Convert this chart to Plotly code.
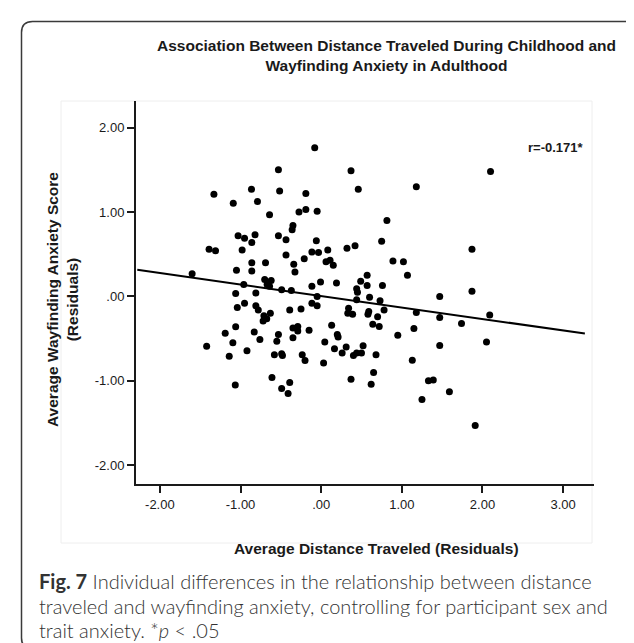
import plotly.graph_objects as go

# ---- data ----
dist_x = [
    -1.33, -0.864, -0.515, -0.19, 0.46, -1.09, -0.79, -0.64, -0.275, -0.19, -0.05,
    -0.35, -0.36, -1.03, -0.95, -0.82, -0.86, -0.53, -0.436, -0.06, -1.39, -1.31,
    -0.98, -0.436, -0.21, -0.115, -0.033, 0.082, 0.32, 0.42, -0.86, -0.69, -1.05,
    -0.86, -0.34, -0.325, 0.06, 0.11, 0.15, -1.60, -0.70, -0.62, -0.67, -0.96,
    -0.64, -0.49, -0.37, -0.115, -0.008, 0.19, 0.49, 0.57, 0.57, 0.44, 0.45, 0.44,
    -1.06, -0.81, -0.05, -0.95, -1.04, -0.81, -0.78, -0.115, -0.05, -0.39, -0.25,
    0.34, 0.33, 0.39, 0.60, 0.59, 0.58, 0.70, -0.71, -0.675, -0.63, -0.72, 0.13,
    0.64, -1.06, -1.19, -0.83, -0.76, -0.53, -0.55, -0.35, -0.29, -0.29, -0.15,
    -0.35, 0.20, 0.21, 0.045, -1.095, -1.42,
    -1.14, -0.92, -0.58, -0.49, -0.48, -0.235, -0.20, 0.03, 0.165, 0.26, 0.31,
    0.40, 0.44, 0.50, 0.52, 0.68, 0.65, 0.62, 0.37, -0.61, -0.49, -0.39, -0.41,
    -1.065,
    1.18, 0.815, 0.75, 0.89, 1.02, 1.07, 1.87, 1.87, 1.47, 0.76, 0.73, 0.78, 0.72,
    1.18, 1.47, 1.74, 2.09, 1.15, 0.95, 1.47, 2.05,
    1.13, 1.33, 1.39, 1.59, 1.25, 1.91,
    -0.08, -0.53, 0.37, 2.10,
]
anxiety_y = [
    1.21, 1.27, 1.25, 1.22, 1.27, 1.105, 1.125, 0.967, 1.0, 1.03, 1.01,
    0.84, 0.79, 0.72, 0.69, 0.73, 0.64, 0.72, 0.67, 0.66, 0.56, 0.54,
    0.55, 0.49, 0.445, 0.525, 0.52, 0.55, 0.57, 0.60, 0.40, 0.40, 0.31,
    0.30, 0.38, 0.29, 0.41, 0.43, 0.37, 0.27, 0.20, 0.19, 0.14, 0.14,
    0.12, 0.08, 0.07, 0.12, 0.17, 0.16, 0.18, 0.25, 0.13, 0.09, 0.05, -0.04,
    0.035, 0.04, 0.0, -0.08, -0.13, -0.11, -0.16, -0.08, -0.11, -0.16, -0.15,
    -0.14, -0.20, -0.21, -0.01, -0.18, -0.21, -0.24, -0.23, -0.265, -0.20, -0.29, -0.34,
    -0.33, -0.36, -0.435, -0.42, -0.51, -0.45, -0.53, -0.375, -0.355, -0.41, -0.40,
    -0.49, -0.45, -0.48, -0.54, -0.55, -0.59,
    -0.71, -0.645, -0.69, -0.68, -0.70, -0.69, -0.76, -0.79, -0.62, -0.67, -0.60,
    -0.70, -0.67, -0.67, -0.585, -0.69, -0.90, -1.04, -0.98, -0.96, -1.09, -1.02, -1.15,
    -1.05,
    1.30, 0.90, 0.655, 0.42, 0.41, 0.25, 0.56, 0.06, 0.0, 0.13, -0.05, -0.16, -0.355,
    -0.19, -0.25, -0.32, -0.22, -0.38, -0.46, -0.58, -0.54,
    -0.755, -1.00, -0.99, -1.13, -1.22, -1.53,
    1.76, 1.50, 1.49, 1.48,
]
fit_x = [-2.28, 3.27]
fit_y = [0.315, -0.44]

x_ticks = [-2, -1, 0, 1, 2, 3]
x_ticktext = ["-2.00", "-1.00", ".00", "1.00", "2.00", "3.00"]
y_ticks = [-2, -1, 0, 1, 2]
y_ticktext = ["-2.00", "-1.00", ".00", "1.00", "2.00"]

title_lines = ["Association Between Distance Traveled During Childhood and",
               "Wayfinding Anxiety in Adulthood"]
x_title = "Average Distance Traveled (Residuals)"
y_title_lines = ["Average Wayfinding Anxiety Score", "(Residuals)"]
r_label = "r=-0.171*"
caption_lines = ["<b>Fig. 7</b> Individual differences in the relationship between distance",
                 "traveled and wayfinding anxiety, controlling for participant sex and",
                 "trait anxiety. *<i>p</i> &lt; .05"]

# ---- layout geometry (pixels) ----
W, H = 634, 643
L, R, T, B = 128, 586, 93, 476


def px(xp):
    return (xp - L) / (R - L)


def py(yp):
    return (B - yp) / (B - T)


FONT = "Liberation Sans, Arial, sans-serif"
INK = "#1a1a1a"

fig = go.Figure()
fig.add_trace(go.Scatter(x=fit_x, y=fit_y, mode="lines",
                         line=dict(color="black", width=2), hoverinfo="skip"))
fig.add_trace(go.Scatter(x=dist_x, y=anxiety_y, mode="markers",
                         marker=dict(color="black", size=7, line=dict(width=0))))

# card border (rounded rectangle)
x0, x1, y0, y1, rr = 13.5, 629, 13.5, 641, 11


def P(a, b):
    return f"{px(a):.5f},{py(b):.5f}"


card = (f"M {P(x0+rr, y0)} L {P(x1-rr, y0)} Q {P(x1, y0)} {P(x1, y0+rr)} "
        f"L {P(x1, y1-rr)} Q {P(x1, y1)} {P(x1-rr, y1)} L {P(x0+rr, y1)} "
        f"Q {P(x0, y1)} {P(x0, y1-rr)} L {P(x0, y0+rr)} Q {P(x0, y0)} {P(x0+rr, y0)} Z")

shapes = [
    dict(type="path", xref="paper", yref="paper", path=card,
         line=dict(color="#3a3a3a", width=1.5), layer="below"),
    dict(type="rect", xref="paper", yref="paper", x0=px(53), x1=px(584),
         y0=py(535), y1=py(93), line=dict(color="#eeeeee", width=1), layer="below"),
]

annotations = [
    dict(text="<br>".join(title_lines), xref="paper", yref="paper",
         x=px(378), y=py(47), xanchor="center", yanchor="middle", showarrow=False,
         font=dict(family=FONT, size=15.5, color=INK, weight="bold")),
    dict(text=x_title, xref="paper", yref="paper", x=px(368), y=py(540),
         xanchor="center", yanchor="middle", showarrow=False,
         font=dict(family=FONT, size=15.5, color=INK, weight="bold")),
    dict(text="<br>".join(y_title_lines), xref="paper", yref="paper", x=px(54), y=py(292),
         xanchor="center", yanchor="middle", showarrow=False, textangle=-90,
         font=dict(family=FONT, size=15.5, color=INK, weight="bold")),
    dict(text=r_label, xref="paper", yref="paper", x=px(548), y=py(140),
         xanchor="center", yanchor="middle", showarrow=False,
         font=dict(family=FONT, size=13, color=INK, weight="bold")),
]
for line_text, line_y in zip(caption_lines, [573, 598, 622]):
    annotations.append(dict(text=line_text, xref="paper", yref="paper", x=px(29), y=py(line_y),
                            xanchor="left", yanchor="middle", showarrow=False, align="left",
                            font=dict(family="Lato, Open Sans, sans-serif", size=20,
                                      color="#333333", weight=300)))

axis_common = dict(showgrid=False, zeroline=False, showline=True, linecolor=INK,
                   linewidth=2, ticks="outside", ticklen=7, tickwidth=1.5, tickcolor=INK,
                   tickfont=dict(family=FONT, size=13, color=INK), fixedrange=True)

fig.update_layout(
    width=W, height=H, autosize=False,
    margin=dict(l=L, r=W - R, t=T, b=H - B, pad=0),
    paper_bgcolor="white", plot_bgcolor="white",
    showlegend=False,
    xaxis=dict(range=[-2.296, 3.383], tickvals=x_ticks, ticktext=x_ticktext, **axis_common),
    yaxis=dict(range=[-2.222, 2.315], tickvals=y_ticks, ticktext=y_ticktext, **axis_common),
    shapes=shapes, annotations=annotations,
)

fig.write_html("out.html")
